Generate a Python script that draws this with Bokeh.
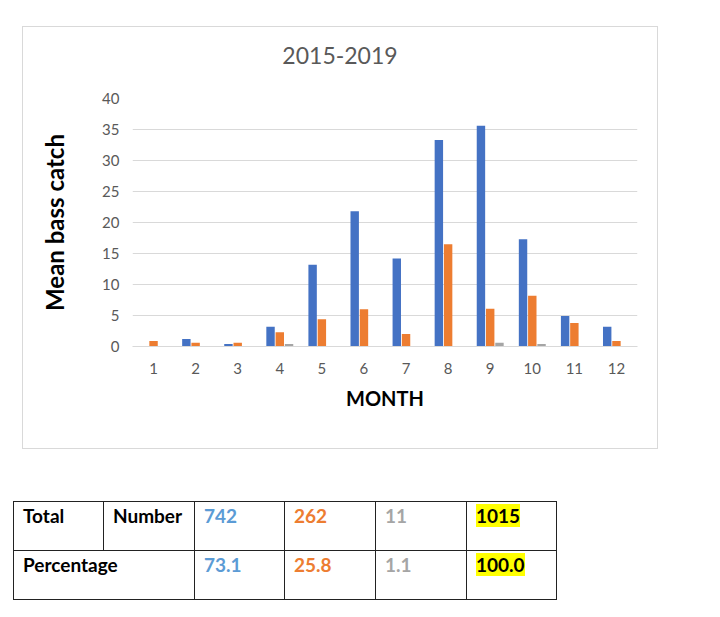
from bokeh.plotting import figure
from bokeh.models import ColumnDataSource, Range1d, FixedTicker, Div, Column
from bokeh.transform import dodge
from bokeh.layouts import column
from bokeh.embed import file_html
from bokeh.resources import INLINE

# ---------------- data ----------------
months = [1, 2, 3, 4, 5, 6, 7, 8, 9, 10, 11, 12]
series_blue = [0.0, 1.2, 0.4, 3.2, 13.2, 21.8, 14.2, 33.3, 35.6, 17.3, 4.9, 3.2]
series_orange = [0.9, 0.6, 0.6, 2.3, 4.4, 6.0, 2.0, 16.5, 6.1, 8.2, 3.8, 0.9]
series_gray = [0.0, 0.0, 0.0, 0.4, 0.0, 0.0, 0.0, 0.0, 0.6, 0.4, 0.0, 0.0]
y_ticks = [0, 5, 10, 15, 20, 25, 30, 35, 40]
chart_title = "2015-2019"
x_label = "MONTH"
y_label = "Mean bass catch"

table_number_label = ["Total", "Number"]
table_pct_label = "Percentage"
table_numbers = ["742", "262", "11", "1015"]
table_percentages = ["73.1", "25.8", "1.1", "100.0"]

BLUE = "#4472c4"
ORANGE = "#ed7d31"
GRAY = "#a5a5a5"
TXT_BLUE = "#5b9bd5"
FONT = "Lato"

# ---------------- chart ----------------
src = ColumnDataSource(dict(month=months, blue=series_blue, orange=series_orange, gray=series_gray))

p = figure(width=634, height=379, x_range=Range1d(0.5, 12.5), y_range=Range1d(0, 40),
           output_backend="svg", toolbar_location=None,
           min_border_left=109, min_border_right=20, min_border_top=29, min_border_bottom=102)
p.outline_line_color = None
p.background_fill_color = "white"
p.border_fill_color = "white"

bw = 0.2
p.vbar(x=dodge("month", -0.22, range=p.x_range), top="blue", width=bw, source=src,
       fill_color=BLUE, line_color=None)
p.vbar(x=dodge("month", 0.0, range=p.x_range), top="orange", width=bw, source=src,
       fill_color=ORANGE, line_color=None)
p.vbar(x=dodge("month", 0.22, range=p.x_range), top="gray", width=bw, source=src,
       fill_color=GRAY, line_color=None)

p.xgrid.grid_line_color = None
p.ygrid.ticker = FixedTicker(ticks=y_ticks)
p.ygrid.grid_line_color = "#d9d9d9"
p.ygrid.grid_line_width = 1

p.yaxis.ticker = FixedTicker(ticks=y_ticks)
p.yaxis.axis_line_color = None
p.yaxis.major_tick_line_color = None
p.yaxis.minor_tick_line_color = None
p.yaxis.major_tick_out = 0
p.yaxis.major_tick_in = 0
p.yaxis.major_label_standoff = 13
p.yaxis.major_label_text_font = FONT
p.yaxis.major_label_text_font_size = "15px"
p.yaxis.major_label_text_color = "#595959"
p.yaxis.axis_label = y_label
p.yaxis.axis_label_text_font = FONT
p.yaxis.axis_label_text_font_style = "bold"
p.yaxis.axis_label_text_font_size = "24px"
p.yaxis.axis_label_text_color = "black"
p.yaxis.axis_label_standoff = 30

p.xaxis.ticker = FixedTicker(ticks=months)
p.xaxis.axis_line_color = "#d9d9d9"
p.xaxis.major_tick_line_color = None
p.xaxis.minor_tick_line_color = None
p.xaxis.major_tick_out = 0
p.xaxis.major_tick_in = 0
p.xaxis.major_label_standoff = 16
p.xaxis.major_label_text_font = FONT
p.xaxis.major_label_text_font_size = "15px"
p.xaxis.major_label_text_color = "#595959"
p.xaxis.axis_label = x_label
p.xaxis.axis_label_text_font = FONT
p.xaxis.axis_label_text_font_style = "bold"
p.xaxis.axis_label_text_font_size = "20px"
p.xaxis.axis_label_text_color = "black"
p.xaxis.axis_label_standoff = 9

title_div = Div(text=(f'<div style="width:634px; text-align:center; font-family:{FONT}; '
                      f'font-size:23px; color:#595959; line-height:28px;">{chart_title}</div>'),
                width=634, height=28, margin=(14, 0, 0, 0))

chart_box = Column(children=[title_div, p], spacing=0, margin=(26, 0, 0, 22),
                   styles={"border": "1px solid #d9d9d9", "background-color": "white"})

# ---------------- table ----------------
col_widths = [90, 91, 90, 91, 91, 90]
val_colors = [TXT_BLUE, ORANGE, GRAY, "black"]
cell = ("border:1px solid #222222; vertical-align:top; padding:3px 0 0 9px; "
        "height:49px; box-sizing:border-box;")


def val_cell(txt, color, highlight):
    inner = txt
    if highlight:
        inner = f'<span style="background:#ffff00;">{txt}</span>'
    return f'<td style="{cell} color:{color};">{inner}</td>'


cols_html = "".join(f'<col style="width:{w}px">' for w in col_widths)
row1 = (f'<td style="{cell}">{table_number_label[0]}</td>'
        f'<td style="{cell}">{table_number_label[1]}</td>'
        + "".join(val_cell(v, c, i == 3) for i, (v, c) in enumerate(zip(table_numbers, val_colors))))
row2 = (f'<td colspan="2" style="{cell}">{table_pct_label}</td>'
        + "".join(val_cell(v, c, i == 3) for i, (v, c) in enumerate(zip(table_percentages, val_colors))))
html = (f'<table style="border-collapse:collapse; table-layout:fixed; width:{sum(col_widths)}px; '
        f'font-family:{FONT}; font-weight:bold; font-size:19px; line-height:1.2;">'
        f'<colgroup>{cols_html}</colgroup><tr style="height:49px">{row1}</tr>'
        f'<tr style="height:49px">{row2}</tr></table>')

div = Div(text=html, width=560, height=105, margin=(52, 0, 0, 13))

layout = column(chart_box, div, spacing=0)
open("out.html", "w").write(file_html(layout, INLINE))
